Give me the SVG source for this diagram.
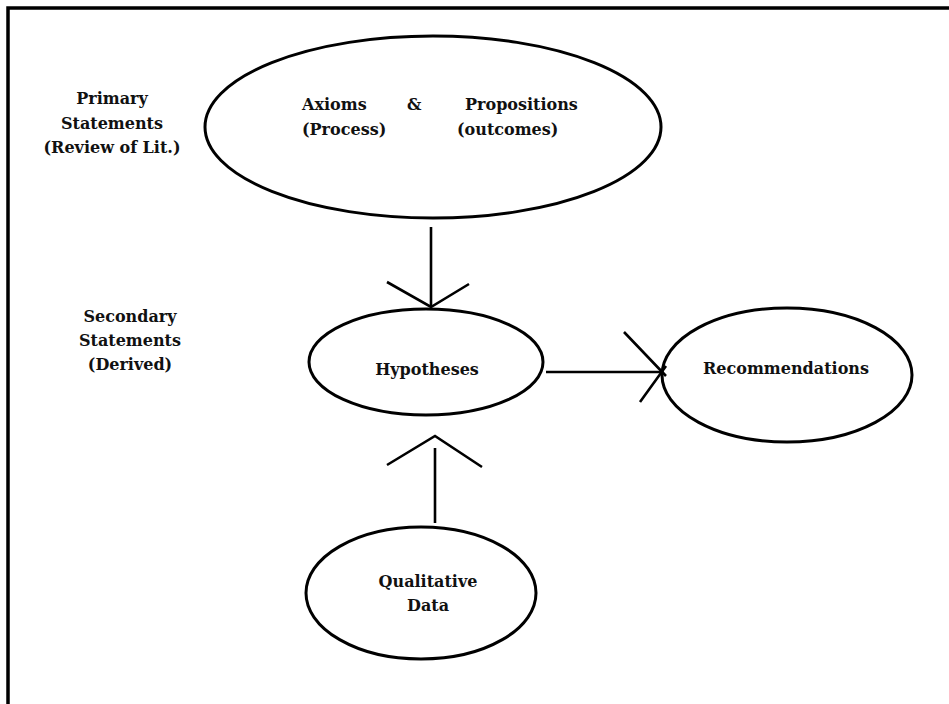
<svg xmlns="http://www.w3.org/2000/svg" width="949" height="704" viewBox="0 0 949 704">
  <style>
    .node { fill: none; stroke: #000; stroke-width: 3; }
    .edge { fill: none; stroke: #000; stroke-width: 2.6; stroke-linecap: butt; }
    .lbl { font-family: "DejaVu Serif", "Liberation Serif", serif; font-weight: bold; font-size: 16px; fill: #111; }
    .mid { text-anchor: middle; }
  </style>
  <rect width="949" height="704" fill="#fff"/>

  <!-- frame: top and left rules -->
  <path d="M8 704 V8 H949" fill="none" stroke="#000" stroke-width="3.5"/>

  <!-- side captions -->
  <g id="primary-caption">
    <text class="lbl mid" x="112" y="104">Primary</text>
    <text class="lbl mid" x="112" y="129">Statements</text>
    <text class="lbl mid" x="112" y="153">(Review of Lit.)</text>
  </g>
  <g id="secondary-caption">
    <text class="lbl mid" x="130" y="322">Secondary</text>
    <text class="lbl mid" x="130" y="346">Statements</text>
    <text class="lbl mid" x="130" y="370">(Derived)</text>
  </g>

  <!-- nodes -->
  <g id="axioms-propositions">
    <ellipse class="node" cx="433" cy="127" rx="228" ry="91"/>
    <text class="lbl" x="302" y="110">Axioms</text>
    <text class="lbl" x="407" y="110">&amp;</text>
    <text class="lbl" x="465" y="110">Propositions</text>
    <text class="lbl" x="302" y="135">(Process)</text>
    <text class="lbl" x="457" y="135">(outcomes)</text>
  </g>
  <g id="hypotheses">
    <ellipse class="node" cx="426" cy="362" rx="117" ry="53"/>
    <text class="lbl mid" x="427" y="375">Hypotheses</text>
  </g>
  <g id="recommendations">
    <ellipse class="node" cx="787" cy="375" rx="125" ry="67"/>
    <text class="lbl mid" x="786" y="374">Recommendations</text>
  </g>
  <g id="qualitative-data">
    <ellipse class="node" cx="421" cy="593" rx="115" ry="66"/>
    <text class="lbl mid" x="428" y="587">Qualitative</text>
    <text class="lbl mid" x="428" y="611">Data</text>
  </g>

  <!-- connectors with open arrowheads -->
  <g id="connectors">
    <path class="edge" d="M431 227 V306"/>
    <path class="edge" d="M387 282 L431 307 L469 284"/>

    <path class="edge" d="M546 372 H662"/>
    <path class="edge" d="M624 332 L666 376 M640 402 L666 366"/>

    <path class="edge" d="M435 523 V448"/>
    <path class="edge" d="M387 465 L435 436 L482 467"/>
  </g>
</svg>
